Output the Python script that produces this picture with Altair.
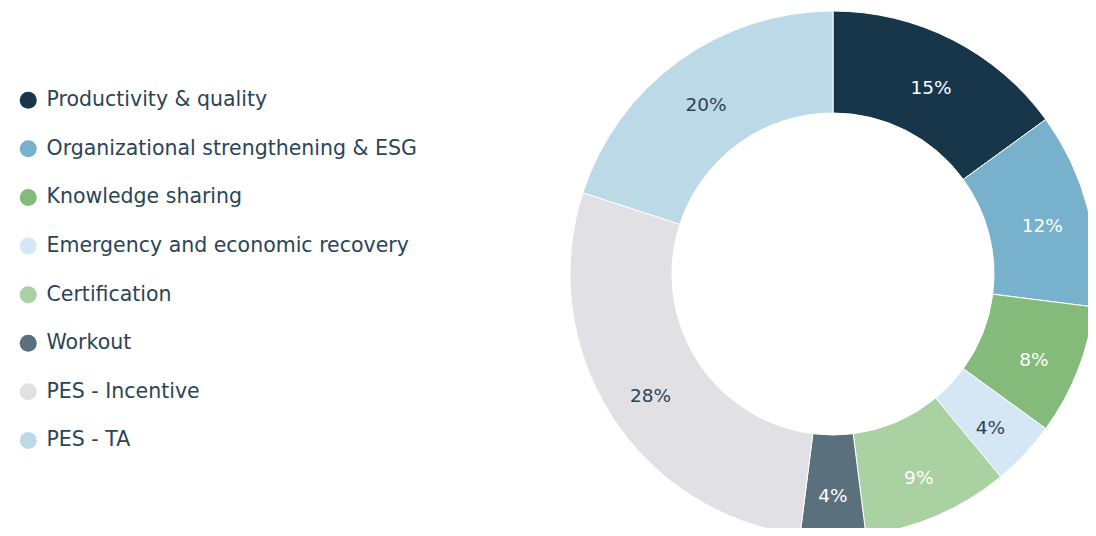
import altair as alt
import pandas as pd

categories = [
    "Productivity & quality",
    "Organizational strengthening & ESG",
    "Knowledge sharing",
    "Emergency and economic recovery",
    "Certification",
    "Workout",
    "PES - Incentive",
    "PES - TA",
]
values = [15, 12, 8, 4, 9, 4, 28, 20]
colors = ["#17364a", "#78b1cc", "#84bb7b", "#d5e6f5", "#a9d1a1", "#5a707d", "#e1e1e5", "#bbd9e6"]
dark_label = ["Emergency and economic recovery", "PES - Incentive", "PES - TA"]

df = pd.DataFrame({"cat": categories, "val": values, "idx": list(range(len(categories)))})
df["lab"] = df["val"].astype(str) + "%"

CX, CY = 825, 266
FONT = "DejaVu Sans"
TXT = "#2b4556"

base = alt.Chart(df).encode(
    theta=alt.Theta("val:Q", stack=True),
    order=alt.Order("idx:Q"),
)

arcs = base.mark_arc(outerRadius=263, innerRadius=161, stroke="white", strokeWidth=1).encode(
    x=alt.value(CX),
    y=alt.value(CY),
    color=alt.Color(
        "cat:N",
        sort=categories,
        scale=alt.Scale(domain=categories, range=colors),
        legend=alt.Legend(
            title=None,
            orient="none",
            legendX=10,
            legendY=82,
            symbolType="circle",
            symbolSize=290,
            symbolStrokeWidth=0,
            labelFont=FONT,
            labelFontSize=20.5,
            labelColor=TXT,
            labelOffset=8,
            labelLimit=500,
            rowPadding=27.6,
        ),
    ),
)

labels = base.mark_text(radius=216, dy=6, font=FONT, fontSize=18.5).encode(
    x=alt.value(CX),
    y=alt.value(CY),
    text="lab:N",
    color=alt.condition(
        alt.FieldOneOfPredicate(field="cat", oneOf=dark_label),
        alt.value(TXT),
        alt.value("white"),
    ),
)

chart = (
    alt.layer(arcs, labels)
    .properties(width=1080, height=520, padding=0, autosize=alt.AutoSizeParams(type="none"))
    .configure_view(stroke=None)
)

chart.save("out.html", embed_options={"renderer": "svg", "actions": False})
